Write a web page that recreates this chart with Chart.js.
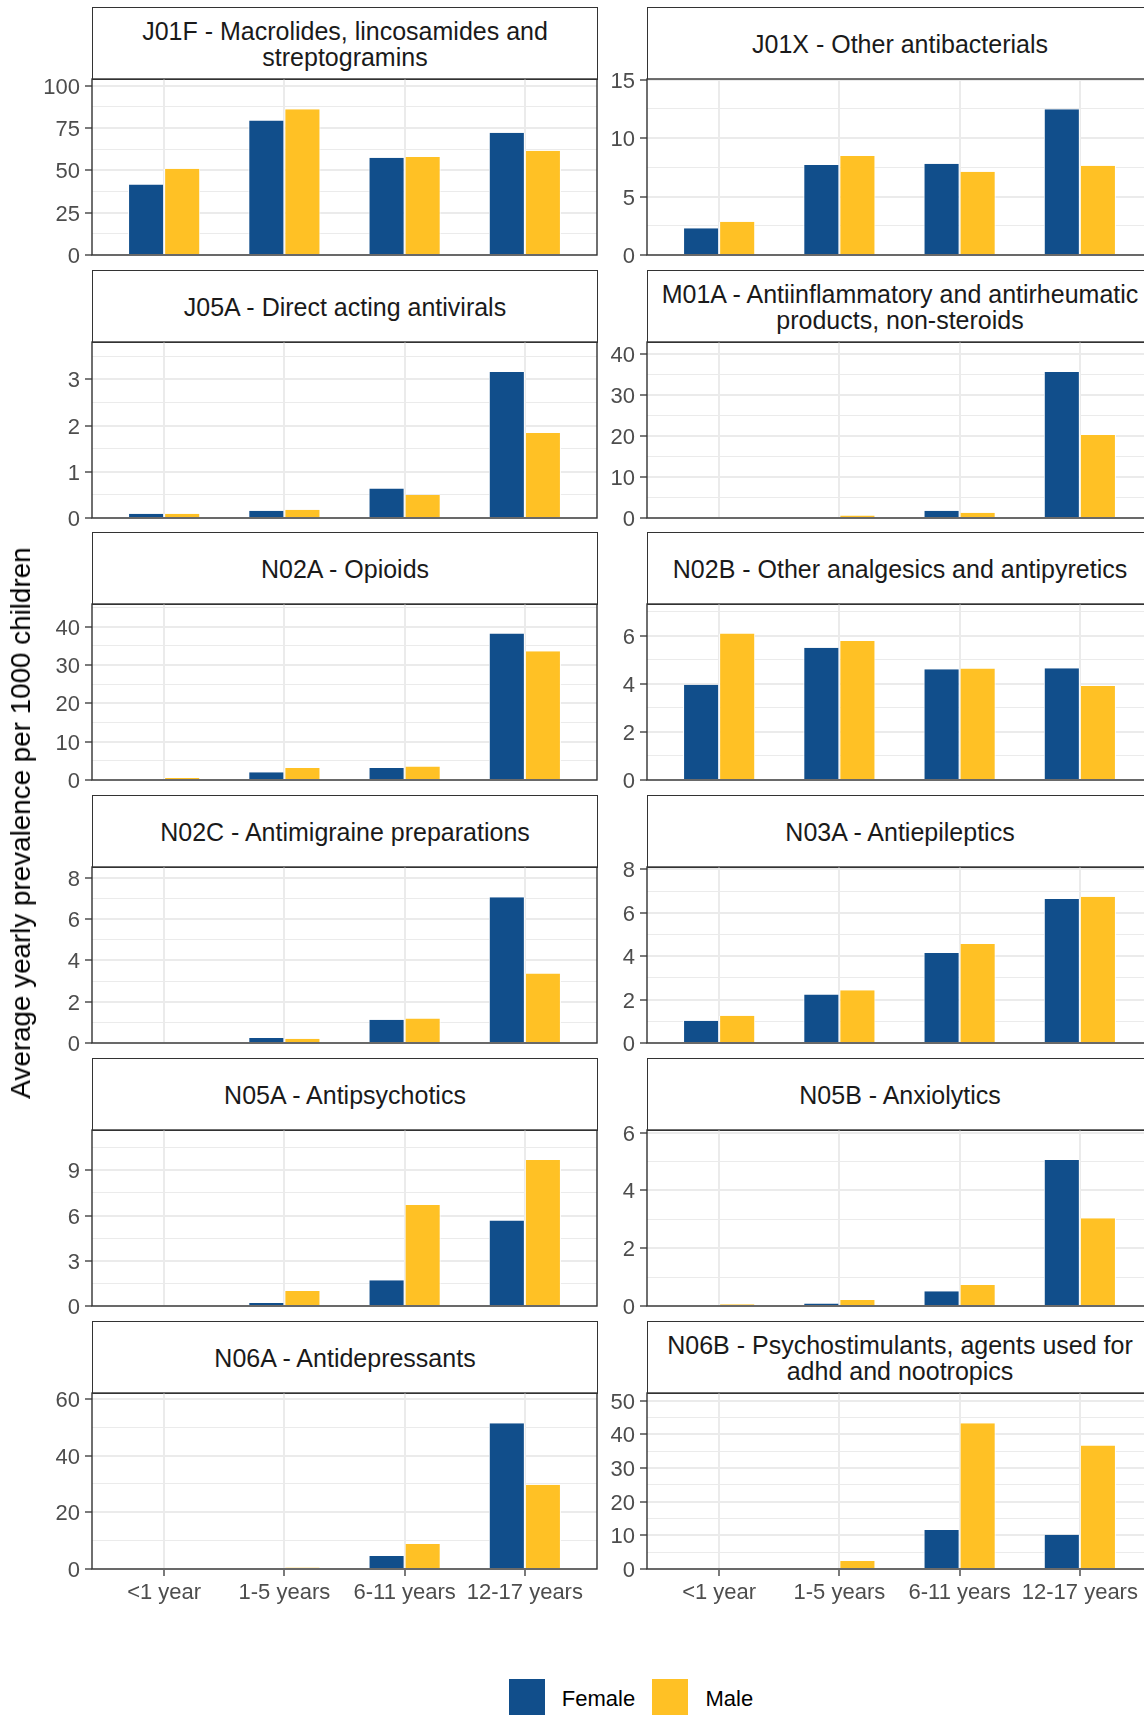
<!DOCTYPE html>
<html><head><meta charset="utf-8">
<script src="https://cdn.jsdelivr.net/npm/chart.js@4.4.1/dist/chart.umd.min.js"></script>
<style>
html,body{margin:0;padding:0;background:#fff;overflow:hidden;}
#wrap{position:relative;width:1144px;height:1715px;overflow:hidden;background:#fff;font-family:'Liberation Sans',Arial,sans-serif;}
.strip{position:absolute;box-sizing:border-box;border:1px solid #333;background:#fff;display:flex;align-items:center;justify-content:center;text-align:center;font-size:25px;line-height:26px;color:#1a1a1a;white-space:pre;}
canvas{position:absolute;}
#ytitle{position:absolute;left:21px;top:823px;transform:translate(-50%,-50%) rotate(-90deg);font-size:27.8px;color:#000;white-space:nowrap;}
.key{position:absolute;width:36px;height:36px;}
.ltxt{position:absolute;font-size:22px;color:#000;line-height:26px;}
</style></head>
<body><div id="wrap"></div>
<script>
// ---- data ----
const categories = ['<1 year', '1-5 years', '6-11 years', '12-17 years'];
const seriesNames = ['Female', 'Male'];
const seriesColors = ['#114E8B', '#FFC125'];
const panelTitles = [
  'J01F - Macrolides, lincosamides and\nstreptogramins',
  'J01X - Other antibacterials',
  'J05A - Direct acting antivirals',
  'M01A - Antiinflammatory and antirheumatic\nproducts, non-steroids',
  'N02A - Opioids',
  'N02B - Other analgesics and antipyretics',
  'N02C - Antimigraine preparations',
  'N03A - Antiepileptics',
  'N05A - Antipsychotics',
  'N05B - Anxiolytics',
  'N06A - Antidepressants',
  'N06B - Psychostimulants, agents used for\nadhd and nootropics'
];
const female_J01F = [41.6, 79.4, 57.4, 72.1];
const male_J01F   = [50.9, 86.0, 57.8, 61.5];
const female_J01X = [2.28, 7.71, 7.80, 12.47];
const male_J01X   = [2.85, 8.48, 7.12, 7.63];
const female_J05A = [0.094, 0.158, 0.64, 3.16];
const male_J05A   = [0.094, 0.18, 0.50, 1.84];
const female_M01A = [0, 0, 1.78, 35.5];
const male_M01A   = [0, 0.6, 1.3, 20.2];
const female_N02A = [0, 2.0, 3.1, 38.2];
const male_N02A   = [0.5, 3.1, 3.5, 33.6];
const female_N02B = [3.97, 5.51, 4.61, 4.65];
const male_N02B   = [6.10, 5.79, 4.64, 3.92];
const female_N02C = [0, 0.24, 1.13, 7.06];
const male_N02C   = [0, 0.21, 1.18, 3.37];
const female_N03A = [1.03, 2.24, 4.15, 6.64];
const male_N03A   = [1.26, 2.43, 4.56, 6.74];
const female_N05A = [0, 0.2, 1.71, 5.68];
const male_N05A   = [0, 1.0, 6.70, 9.69];
const female_N05B = [0, 0.09, 0.51, 5.05];
const male_N05B   = [0.06, 0.21, 0.73, 3.04];
const female_N06A = [0, 0, 4.6, 51.4];
const male_N06A   = [0, 0.5, 8.84, 29.7];
const female_N06B = [0, 0, 11.6, 10.2];
const male_N06B   = [0, 2.4, 43.3, 36.7];
const femaleValues = [female_J01F, female_J01X, female_J05A, female_M01A, female_N02A, female_N02B,
                      female_N02C, female_N03A, female_N05A, female_N05B, female_N06A, female_N06B];
const maleValues = [male_J01F, male_J01X, male_J05A, male_M01A, male_N02A, male_N02B,
                    male_N02C, male_N03A, male_N05A, male_N05B, male_N06A, male_N06B];
const yAxisMax = [103.9, 15.06, 3.81, 42.8, 45.9, 7.33, 8.52, 8.11, 11.68, 6.09, 62.1, 52.3];
const yMajorStep = [25, 5, 1, 10, 10, 2, 2, 2, 3, 2, 20, 10];
const yAxisTitle = 'Average yearly prevalence per 1000 children';

// ---- layout ----
const LAY = {
  panelTop0: 78.7, rowPitch: 262.8, panelH: 176, stripH: 72,
  cols: [{canvasLeft: 0, canvasW: 598, axisW: 92}, {canvasLeft: 599, canvasW: 554, axisW: 48}],
  padT: 20, padB: 20, xAxisH: 45
};
const wrap = document.getElementById('wrap');

const panelBorder = {
  id: 'panelBorder',
  afterDraw(chart) {
    const {ctx, chartArea: a} = chart;
    ctx.save();
    ctx.strokeStyle = '#333333';
    ctx.lineWidth = 1.4;
    ctx.strokeRect(a.left, a.top, a.right - a.left, a.bottom - a.top);
    ctx.restore();
  }
};

function isMajor(v, step) {
  const q = v / step;
  return Math.abs(q - Math.round(q)) < 1e-6;
}

for (let i = 0; i < panelTitles.length; i++) {
  const row = Math.floor(i / 2), col = i % 2;
  const c = LAY.cols[col];
  const panelTop = Math.round(LAY.panelTop0 + row * LAY.rowPitch);
  const bottomRow = row === 5;
  const panelLeft = c.canvasLeft + c.axisW;

  const strip = document.createElement('div');
  strip.className = 'strip';
  strip.style.left = panelLeft + 'px';
  strip.style.top = (panelTop - LAY.stripH) + 'px';
  strip.style.width = '506px';
  strip.style.height = (LAY.stripH + 1) + 'px';
  strip.textContent = panelTitles[i];
  wrap.appendChild(strip);

  const cv = document.createElement('canvas');
  const h = LAY.padT + LAY.panelH + (bottomRow ? LAY.xAxisH : 0) + LAY.padB;
  cv.width = c.canvasW; cv.height = h;
  cv.style.left = c.canvasLeft + 'px';
  cv.style.top = (panelTop - LAY.padT) + 'px';
  cv.style.width = c.canvasW + 'px'; cv.style.height = h + 'px';
  wrap.appendChild(cv);

  const major = yMajorStep[i];
  const minor = major / 2;
  const datasets = [femaleValues[i], maleValues[i]].map((vals, s) => ({
    label: seriesNames[s],
    data: vals.map((v, k) => ({x: k, y: v})),
    backgroundColor: seriesColors[s],
    borderColor: '#ffffff',
    borderWidth: {left: 1, right: 1, top: 0, bottom: 0},
    borderSkipped: 'start',
    categoryPercentage: 0.6,
    barPercentage: 1.0
  }));

  new Chart(cv, {
    type: 'bar',
    data: {datasets},
    plugins: [panelBorder],
    options: {
      responsive: false,
      animation: false,
      events: [],
      layout: {padding: {top: LAY.padT, bottom: LAY.padB, left: 0, right: 1}},
      plugins: {legend: {display: false}, tooltip: {enabled: false}, title: {display: false}},
      scales: {
        x: {
          type: 'linear',
          min: -0.6, max: 3.6,
          offset: false,
          border: {display: false},
          grid: {
            color: '#EBEBEB', lineWidth: 2, offset: false,
            drawTicks: bottomRow, tickLength: 7, tickColor: '#333333', tickWidth: 1.3
          },
          ticks: {
            display: bottomRow, stepSize: 1, includeBounds: false, autoSkip: false,
            maxRotation: 0, minRotation: 0, padding: 4,
            color: '#4D4D4D', font: {family: 'Liberation Sans', size: 22},
            callback: (v) => categories[v] !== undefined ? categories[v] : ''
          },
          afterFit: (s) => { s.height = bottomRow ? LAY.xAxisH : 0; }
        },
        y: {
          type: 'linear',
          min: 0, max: yAxisMax[i],
          border: {display: false},
          grid: {
            color: '#EBEBEB',
            lineWidth: (ctx) => (ctx.tick && isMajor(ctx.tick.value, major)) ? 2 : 1,
            drawTicks: true, tickLength: 7,
            tickColor: (ctx) => (ctx.tick && isMajor(ctx.tick.value, major)) ? '#333333' : 'rgba(0,0,0,0)',
            tickWidth: 1.3
          },
          ticks: {
            stepSize: minor, includeBounds: false, autoSkip: false, padding: 5, labelOffset: 2,
            color: '#4D4D4D', font: {family: 'Liberation Sans', size: 22},
            callback: (v) => isMajor(v, major) ? String(Math.round(v)) : ''
          },
          afterFit: (s) => { s.width = c.axisW; }
        }
      }
    }
  });
}

// y-axis title
const yt = document.createElement('div');
yt.id = 'ytitle';
yt.textContent = yAxisTitle;
wrap.appendChild(yt);

// legend
const legendPos = [{key: 508.6, text: 561.8}, {key: 651.5, text: 705.5}];
seriesNames.forEach((name, s) => {
  const k = document.createElement('div');
  k.className = 'key';
  k.style.left = legendPos[s].key + 'px';
  k.style.top = '1679px';
  k.style.background = seriesColors[s];
  wrap.appendChild(k);
  const t = document.createElement('div');
  t.className = 'ltxt';
  t.style.left = legendPos[s].text + 'px';
  t.style.top = '1686px';
  t.textContent = name;
  wrap.appendChild(t);
});
</script>
</body></html>
